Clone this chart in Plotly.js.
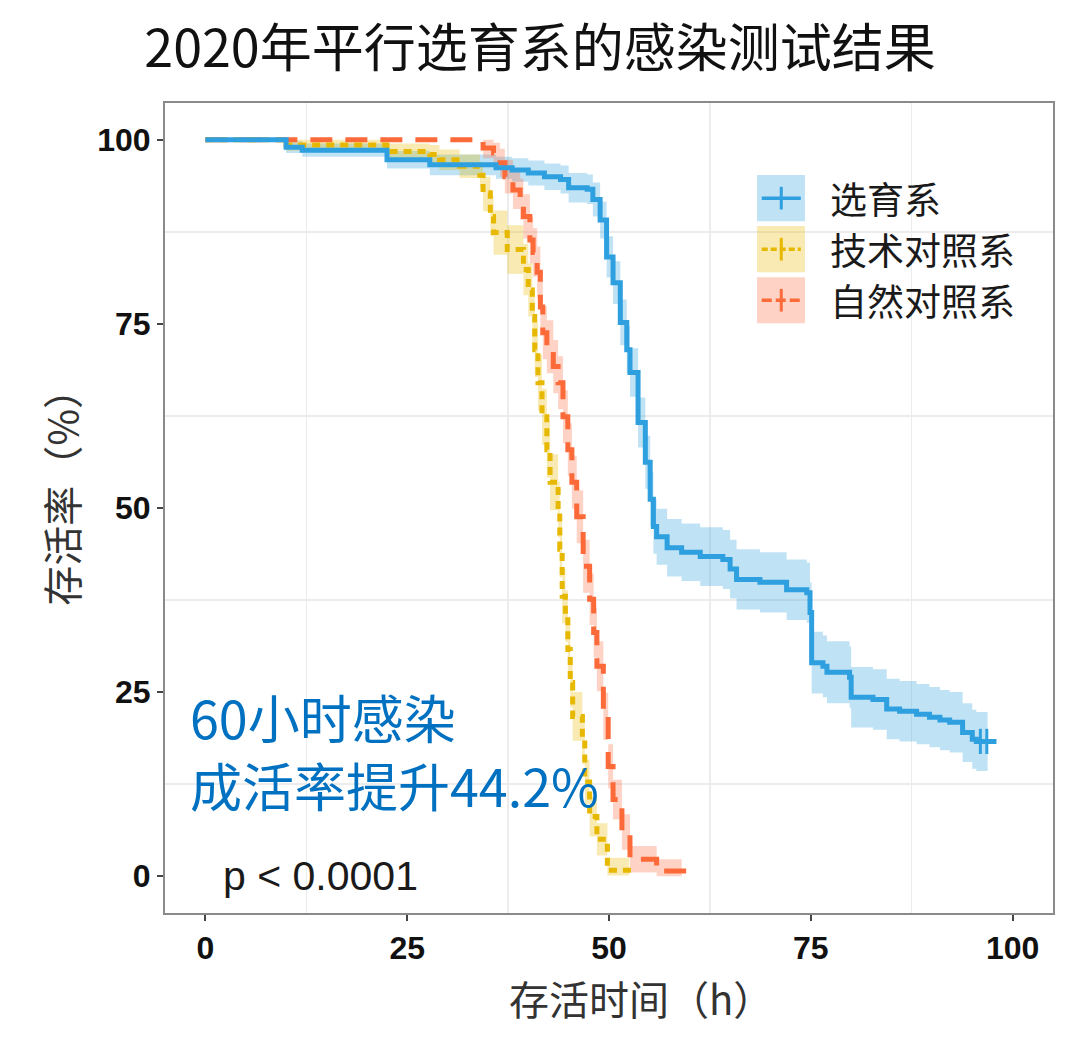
<!DOCTYPE html>
<html>
<head>
<meta charset="utf-8">
<script src="https://cdn.plot.ly/plotly-3.0.1.min.js"></script>
<style>html,body{margin:0;padding:0;background:#fff;}#chart{width:1080px;height:1040px;}</style>
</head>
<body>
<div id="chart"></div>
<script>
// ---- data ----
const groupNames = ["选育系", "技术对照系", "自然对照系"];

// 选育系 (selected line)
const tSel  = [0, 10, 12, 22.5, 27.8, 36, 38, 40, 42, 44, 45, 47.3, 48, 48.9, 49.7, 50.5, 51.4, 52.2, 52.6, 53.6, 54.5, 55.1, 55.5, 55.9, 57.2, 59, 61.3, 64.1, 65, 65.8, 68.7, 72, 74.5, 74.9, 75.1, 76.5, 77, 79.8, 80, 82.7, 84.4, 86, 88.1, 89.7, 91, 92.2, 93.8, 95, 95.5];
const sSel  = [100, 99, 98.6, 97.3, 96.6, 96.2, 95.9, 95.5, 95.0, 94.6, 93.5, 93.3, 91.9, 89.1, 84.1, 80.6, 75.2, 71.5, 68.4, 61.6, 56.2, 51.2, 47.5, 46.1, 44.6, 44.0, 43.4, 43.0, 41.7, 40.3, 39.9, 38.9, 38.5, 35.8, 29.0, 28.5, 27.7, 27.0, 24.3, 24.0, 22.7, 22.4, 22.0, 21.6, 21.2, 20.9, 19.5, 18.6, 18.3];
const hiSel = [100, 99.8, 99.5, 98.5, 98.0, 97.7, 97.5, 97.2, 96.8, 96.5, 95.5, 95.3, 94.2, 91.6, 86.9, 83.5, 78.3, 74.7, 71.7, 65.0, 59.8, 54.9, 51.2, 49.9, 48.5, 47.9, 47.4, 47.0, 45.7, 44.4, 44.0, 43.0, 42.6, 39.9, 33.2, 32.7, 31.9, 31.2, 28.4, 28.1, 26.8, 26.5, 26.1, 25.7, 25.3, 25.0, 23.5, 22.6, 22.3];
const loSel = [100, 98.2, 97.7, 96.1, 95.2, 94.7, 94.3, 93.8, 93.2, 92.7, 91.5, 91.3, 89.6, 86.6, 81.3, 77.7, 72.1, 68.3, 65.1, 58.2, 52.6, 47.5, 43.8, 42.3, 40.7, 40.1, 39.4, 39.0, 37.7, 36.2, 35.8, 34.8, 34.4, 31.7, 24.8, 24.3, 23.5, 22.8, 20.2, 19.9, 18.6, 18.3, 17.9, 17.5, 17.1, 16.8, 15.5, 14.6, 14.3];
const endSel = 98, bandEndSel = 96.9;
const censorSelT = [96.0, 96.8];
const censorSelS = [18.3, 18.3];

// 技术对照系 (technical control)
const tTec  = [0, 10, 22.5, 27.8, 29, 31.5, 34, 34.4, 35.3, 35.7, 37.4, 39.4, 40, 40.5, 40.8, 41.2, 41.7, 42.3, 42.7, 43.7, 43.9, 44.2, 44.6, 44.9, 45.2, 45.5, 46.7, 47, 47.6, 48.5, 49.8];
const sTec  = [100, 99.3, 98.4, 98.0, 97.3, 96.4, 95.2, 92.8, 89.6, 87.4, 85.1, 82.4, 79.6, 76.0, 71.5, 67.0, 62.4, 57.9, 53.5, 49.8, 44.4, 38.0, 35.3, 30.8, 26.3, 21.7, 18.6, 12.8, 8.1, 5.0, 0.8];
const hiTec = [100, 100, 99.5, 99.3, 98.7, 98.0, 97.0, 95.0, 92.3, 90.4, 88.4, 85.9, 83.2, 79.7, 75.2, 70.8, 66.2, 61.7, 57.3, 53.6, 48.2, 41.7, 38.8, 34.2, 29.7, 25.0, 22.0, 15.8, 10.8, 7.2, 2.5];
const loTec = [100, 98.5, 97.2, 96.7, 95.9, 94.8, 93.4, 90.3, 86.9, 84.4, 81.8, 78.9, 76.0, 72.3, 67.8, 63.2, 58.6, 54.1, 49.7, 46.0, 40.6, 34.3, 31.8, 27.4, 22.9, 18.4, 15.2, 9.8, 5.4, 2.8, 0.1];
const endTec = 53, bandEndTec = 52.5;

// 自然对照系 (natural control)
const tNat  = [0, 34.4, 35.7, 36.5, 37.1, 38.1, 39, 39.4, 40.2, 40.6, 41.1, 41.5, 41.8, 42.3, 43.1, 43.7, 44.3, 44.9, 45.4, 46, 46.8, 47.6, 48.1, 48.5, 49.3, 49.9, 50.5, 51.6, 52.6, 55.9];
const sNat  = [100, 98.9, 98.2, 96.9, 95.0, 93.2, 91.9, 89.6, 86.4, 84.7, 82.0, 77.3, 73.8, 71.9, 69.2, 67.0, 62.4, 57.9, 53.5, 48.8, 42.1, 37.6, 33.1, 28.5, 21.7, 14.9, 10.4, 6.0, 2.3, 0.7];
const hiNat = [100, 100, 99.6, 98.8, 97.3, 95.8, 94.7, 92.6, 89.6, 88.0, 85.5, 80.9, 77.4, 75.5, 72.8, 70.6, 66.0, 61.5, 57.1, 52.4, 45.7, 41.1, 36.5, 31.9, 24.9, 17.9, 13.1, 8.4, 4.1, 2.3];
const loNat = [100, 97.5, 96.5, 95.0, 92.7, 90.6, 89.1, 86.6, 83.2, 81.4, 78.5, 73.7, 70.2, 68.3, 65.6, 63.4, 58.8, 54.3, 49.9, 45.2, 38.5, 34.1, 29.7, 25.1, 18.5, 11.9, 7.7, 3.6, 0.5, 0.0];
const endNat = 60, bandEndNat = 59;

const xTicks = [0, 25, 50, 75, 100];
const yTicks = [0, 25, 50, 75, 100];
const pText = "p < 0.0001";
const noteText = "60小时感染<br>成活率提升44.2%";

// ---- styling ----
const colors = ["#2E9FDF", "#E7B800", "#FC6A3A"];
const fills = ["rgba(46,159,223,0.30)", "rgba(231,184,0,0.30)", "rgba(252,106,58,0.30)"];
const dashes = ["solid", "8px,6px", "22px,13px"];
const cjk = '"Noto Sans CJK SC", "Noto Sans", sans-serif';

function ext(arr, extra) { return arr.concat([extra]); }
function lastOf(a) { return a[a.length - 1]; }

const groups = [
  {t: tSel, s: sSel, hi: hiSel, lo: loSel, end: endSel, bandEnd: bandEndSel},
  {t: tTec, s: sTec, hi: hiTec, lo: loTec, end: endTec, bandEnd: bandEndTec},
  {t: tNat, s: sNat, hi: hiNat, lo: loNat, end: endNat, bandEnd: bandEndNat}
];

const traces = [];
groups.forEach((g, i) => {
  traces.push({
    x: ext(g.t, g.bandEnd), y: ext(g.lo, lastOf(g.lo)), mode: "lines",
    line: {shape: "hv", width: 0, color: fills[i]}, hoverinfo: "skip", showlegend: false
  });
  traces.push({
    x: ext(g.t, g.bandEnd), y: ext(g.hi, lastOf(g.hi)), mode: "lines",
    line: {shape: "hv", width: 0, color: fills[i]}, fill: "tonexty", fillcolor: fills[i],
    hoverinfo: "skip", showlegend: false
  });
});
[2, 1, 0].forEach(i => {
  const g = groups[i];
  traces.push({
    x: ext(g.t, g.end), y: ext(g.s, lastOf(g.s)), mode: "lines", name: groupNames[i],
    line: {shape: "hv", width: 5, color: colors[i], dash: dashes[i]}, showlegend: false
  });
});
traces.push({
  x: censorSelT, y: censorSelS, mode: "markers", showlegend: false,
  marker: {symbol: "line-ns", size: 18, color: colors[0], line: {color: colors[0], width: 3}}
});

// custom legend (boxes + key lines + labels)
const shapes = [];
const annotations = [];
const boxTop = [0.911, 0.848, 0.785];
const boxH = 0.057;
groupNames.forEach((name, i) => {
  const y0 = boxTop[i] - boxH, y1 = boxTop[i], ym = (y0 + y1) / 2;
  shapes.push({type: "rect", xref: "paper", yref: "paper", x0: 0.6667, x1: 0.7207, y0: y0, y1: y1,
    fillcolor: fills[i], line: {width: 0}, layer: "above"});
  shapes.push({type: "line", xref: "paper", yref: "paper", x0: 0.672, x1: 0.716, y0: ym, y1: ym,
    line: {color: colors[i], width: 3.5, dash: i === 0 ? "solid" : (i === 1 ? "6px,3px" : "10px,4px")}});
  shapes.push({type: "line", xref: "paper", yref: "paper", x0: 0.694, x1: 0.694, y0: ym - 0.014, y1: ym + 0.014,
    line: {color: colors[i], width: 3}});
  annotations.push({xref: "paper", yref: "paper", x: 0.7465, y: ym, xanchor: "left", yanchor: "middle",
    text: name, showarrow: false, font: {family: cjk, size: 37, color: "#1a1a1a"}});
});

annotations.push({xref: "x", yref: "y", x: -2.1, y: 17.1, xanchor: "left", yanchor: "middle",
  text: noteText, align: "left", showarrow: false,
  font: {family: cjk, size: 52, color: "#0070C0"}});
annotations.push({xref: "x", yref: "y", x: 1.9, y: 0, xanchor: "left", yanchor: "middle",
  text: pText, showarrow: false, font: {family: "Liberation Sans, Arial, sans-serif", size: 41, color: "#1a1a1a"}});
annotations.push({xref: "paper", yref: "paper", x: -0.117, y: 0.525, xanchor: "center", yanchor: "middle",
  text: "存活率（%）", textangle: -90, showarrow: false, font: {family: cjk, size: 40, color: "#333333"}});
annotations.push({xref: "paper", yref: "paper", x: 0.536, y: -0.105, xanchor: "center", yanchor: "middle",
  text: "存活时间（h）", showarrow: false, font: {family: cjk, size: 40, color: "#333333"}});

const axisCommon = {
  showgrid: false, zeroline: false, showline: true, mirror: true,
  linecolor: "#8a8a8a", linewidth: 2,
  ticks: "outside", ticklen: 6, tickwidth: 2, tickcolor: "#444",
  tickfont: {family: "Liberation Sans, Arial, sans-serif", size: 32, color: "#111", weight: "bold"},
  minor: {tick0: 12.5, dtick: 25, showgrid: true, gridcolor: "#ececec", gridwidth: 1.5, ticks: ""}
};

const layout = {
  width: 1080, height: 1040,
  paper_bgcolor: "#ffffff", plot_bgcolor: "#ffffff",
  margin: {l: 165, r: 27, t: 103, b: 127},
  title: {text: "2020年平行选育系的感染测试结果", x: 0.5, xref: "container", xanchor: "center",
    y: 0.953, yref: "container", yanchor: "middle",
    font: {family: cjk, size: 52, color: "#111"}},
  xaxis: Object.assign({}, axisCommon, {range: [-5, 105], tickvals: xTicks, ticktext: xTicks.map(String)}),
  yaxis: Object.assign({}, axisCommon, {range: [-5, 105], tickvals: yTicks, ticktext: yTicks.map(String)}),
  shapes: shapes, annotations: annotations, showlegend: false
};

Plotly.newPlot("chart", traces, layout, {staticPlot: true, displayModeBar: false});
</script>
</body>
</html>
